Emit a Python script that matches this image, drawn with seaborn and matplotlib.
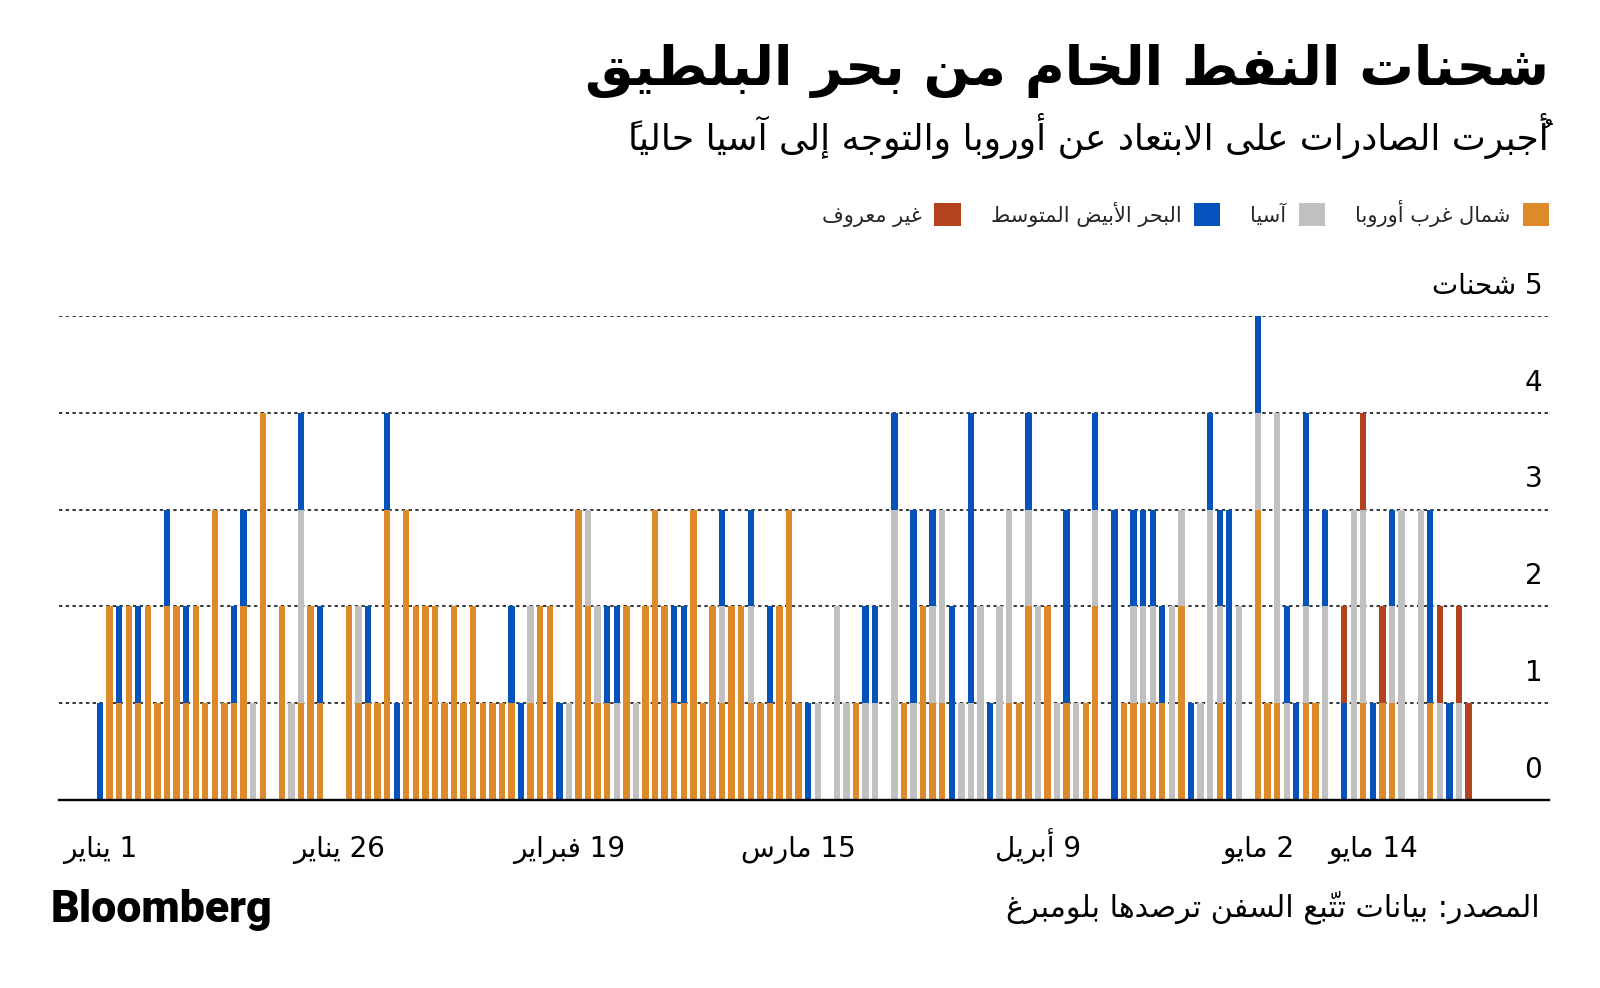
import numpy as np
import pandas as pd
import matplotlib
matplotlib.use("Agg")
import matplotlib.pyplot as plt
import matplotlib.transforms as mtransforms
from matplotlib.patches import Patch
import seaborn as sns

# ---------------- data ----------------
start_date = "2023-01-01"
categories = ["شمال غرب أوروبا", "آسيا", "البحر الأبيض المتوسط", "غير معروف"]
colors = ["#DF8A2A", "#C0C0C0", "#0652BD", "#B3421F"]

nw_europe = [0, 2, 1, 2, 1, 2, 1, 2, 2, 1,
             2, 1, 3, 1, 1, 2, 0, 4, 0, 2,
             0, 1, 2, 1, 0, 0, 2, 1, 1, 1,
             3, 0, 3, 2, 2, 2, 1, 2, 1, 2,
             1, 1, 1, 1, 0, 1, 2, 2, 0, 0,
             3, 2, 1, 1, 0, 2, 0, 2, 3, 2,
             1, 1, 3, 1, 2, 1, 2, 2, 1, 1,
             1, 2, 3, 1, 0, 0, 0, 0, 0, 1,
             0, 0, 0, 0, 1, 0, 2, 1, 1, 0,
             0, 0, 0, 0, 0, 1, 1, 2, 0, 2,
             0, 1, 0, 1, 2, 0, 0, 1, 1, 1,
             1, 1, 0, 2, 0, 0, 0, 1, 0, 0,
             0, 3, 1, 1, 0, 0, 1, 1, 0, 0,
             0, 0, 1, 0, 1, 1, 0, 0, 0, 1,
             0, 0, 0, 0]
asia = [0, 0, 0, 0, 0, 0, 0, 0, 0, 0,
        0, 0, 0, 0, 0, 0, 1, 0, 0, 0,
        1, 2, 0, 0, 0, 0, 0, 1, 0, 0,
        0, 0, 0, 0, 0, 0, 0, 0, 0, 0,
        0, 0, 0, 0, 0, 1, 0, 0, 0, 1,
        0, 1, 1, 0, 1, 0, 1, 0, 0, 0,
        0, 0, 0, 0, 0, 1, 0, 0, 1, 0,
        0, 0, 0, 0, 0, 1, 0, 2, 1, 0,
        1, 1, 0, 3, 0, 1, 0, 1, 2, 0,
        1, 1, 2, 0, 2, 2, 0, 1, 2, 0,
        1, 0, 1, 0, 1, 0, 0, 0, 1, 1,
        1, 0, 2, 1, 0, 1, 3, 1, 0, 2,
        0, 1, 0, 3, 1, 0, 1, 0, 2, 0,
        0, 3, 2, 0, 0, 1, 3, 0, 3, 0,
        1, 0, 1, 0]
mediterranean = [1, 0, 1, 0, 1, 0, 0, 1, 0, 1,
                 0, 0, 0, 0, 1, 1, 0, 0, 0, 0,
                 0, 1, 0, 1, 0, 0, 0, 0, 1, 0,
                 1, 1, 0, 0, 0, 0, 0, 0, 0, 0,
                 0, 0, 0, 1, 1, 0, 0, 0, 1, 0,
                 0, 0, 0, 1, 1, 0, 0, 0, 0, 0,
                 1, 1, 0, 0, 0, 1, 0, 0, 1, 0,
                 1, 0, 0, 0, 1, 0, 0, 0, 0, 0,
                 1, 1, 0, 1, 0, 2, 0, 1, 0, 2,
                 0, 3, 0, 1, 0, 0, 0, 1, 0, 0,
                 0, 2, 0, 0, 1, 0, 3, 0, 1, 1,
                 1, 1, 0, 0, 1, 0, 1, 1, 3, 0,
                 0, 1, 0, 0, 1, 1, 2, 0, 1, 0,
                 1, 0, 0, 1, 0, 1, 0, 0, 0, 2,
                 0, 1, 0, 0]
unknown = [0] * 130 + [1, 0, 1, 0, 1, 0, 0, 0, 0, 0,
                       1, 0, 1, 1]

tick_dates = ["2023-01-01", "2023-01-26", "2023-02-19", "2023-03-15",
              "2023-04-09", "2023-05-02", "2023-05-14"]
tick_labels = ["1 يناير", "26 يناير", "19 فبراير", "15 مارس",
               "9 أبريل", "2 مايو", "14 مايو"]
y_values = [0, 1, 2, 3, 4, 5]
y_labels = ["0", "1", "2", "3", "4", "5 شحنات"]

title = "شحنات النفط الخام من بحر البلطيق"
subtitle = "أُجبرت الصادرات على الابتعاد عن أوروبا والتوجه إلى آسيا حالياً"
source = "المصدر: بيانات تتّبع السفن ترصدها بلومبرغ"

# ---------------- Arabic shaping (presentation forms + visual order) ----------------
FORMS = {
    "\u0621": (0xFE80, 1), "\u0622": (0xFE81, 2), "\u0623": (0xFE83, 2),
    "\u0624": (0xFE85, 2), "\u0625": (0xFE87, 2), "\u0626": (0xFE89, 4),
    "\u0627": (0xFE8D, 2), "\u0628": (0xFE8F, 4), "\u0629": (0xFE93, 2),
    "\u062A": (0xFE95, 4), "\u062B": (0xFE99, 4), "\u062C": (0xFE9D, 4),
    "\u062D": (0xFEA1, 4), "\u062E": (0xFEA5, 4), "\u062F": (0xFEA9, 2),
    "\u0630": (0xFEAB, 2), "\u0631": (0xFEAD, 2), "\u0632": (0xFEAF, 2),
    "\u0633": (0xFEB1, 4), "\u0634": (0xFEB5, 4), "\u0635": (0xFEB9, 4),
    "\u0636": (0xFEBD, 4), "\u0637": (0xFEC1, 4), "\u0638": (0xFEC5, 4),
    "\u0639": (0xFEC9, 4), "\u063A": (0xFECD, 4), "\u0641": (0xFED1, 4),
    "\u0642": (0xFED5, 4), "\u0643": (0xFED9, 4), "\u0644": (0xFEDD, 4),
    "\u0645": (0xFEE1, 4), "\u0646": (0xFEE5, 4), "\u0647": (0xFEE9, 4),
    "\u0648": (0xFEED, 2), "\u0649": (0xFEEF, 2), "\u064A": (0xFEF1, 4),
}
LAM_ALEF = {"\u0622": 0xFEF5, "\u0623": 0xFEF7, "\u0625": 0xFEF9, "\u0627": 0xFEFB}
HARAKAT = set(chr(c) for c in range(0x064B, 0x0653)) | {"\u0670"}


def _jtype(unit):
    b = unit[0]
    if isinstance(b, tuple):
        return "R"
    if b in FORMS:
        n = FORMS[b][1]
        return "D" if n == 4 else ("R" if n == 2 else "U")
    return None


def rtl(text):
    units = []
    for ch in text:
        if ch in HARAKAT and units:
            units[-1][1] += ch
        else:
            units.append([ch, ""])
    merged = []
    i = 0
    while i < len(units):
        b, m = units[i]
        if b == "\u0644" and i + 1 < len(units) and units[i + 1][0] in LAM_ALEF:
            merged.append([("LA", units[i + 1][0]), m + units[i + 1][1]])
            i += 2
        else:
            merged.append([b, m])
            i += 1
    shaped = []
    for k, u in enumerate(merged):
        t = _jtype(u)
        if t is None:
            shaped.append((u[0] + u[1], False))
            continue
        pt = _jtype(merged[k - 1]) if k > 0 else None
        nt = _jtype(merged[k + 1]) if k + 1 < len(merged) else None
        jp = pt == "D" and t in ("D", "R")
        jn = t == "D" and nt in ("D", "R")
        if isinstance(u[0], tuple):
            code = LAM_ALEF[u[0][1]] + (1 if jp else 0)
        else:
            base = FORMS[u[0]][0]
            if jp and jn:
                code = base + 3
            elif jp:
                code = base + 1
            elif jn:
                code = base + 2
            else:
                code = base
        # marks placed before their base so that they overlay it in LTR drawing
        shaped.append((u[1] + chr(code), True))
    tokens = []
    for s, is_ar in shaped:
        c = s[0]
        ltr = (not is_ar) and (c.isdigit() or (c.isascii() and c.isalpha()))
        if ltr and tokens and tokens[-1][1]:
            tokens[-1][0] += s
        else:
            tokens.append([s, ltr])
    return "".join(t[0] for t in reversed(tokens))


# ---------------- build long table ----------------
n_days = len(nw_europe)
day = np.arange(n_days)
series = [nw_europe, asia, mediterranean, unknown]
frames = []
for cat, vals in zip(categories, series):
    frames.append(pd.DataFrame({"day": day, "dest": cat, "ships": vals}))
df = pd.concat(frames, ignore_index=True)
df = df[df["ships"] > 0]

palette = dict(zip(categories, colors))

# ---------------- plot ----------------
sns.set_style("white")
plt.rcParams["font.family"] = ["DejaVu Sans"]

W, H = 1600, 988
fig = plt.figure(figsize=(W / 100, H / 100), dpi=100)
ax = fig.add_axes([59 / W, 188 / H, 1490 / W, 484 / H])

sns.histplot(data=df, x="day", weights="ships", hue="dest",
             hue_order=categories[::-1], palette=palette,
             multiple="stack", discrete=True, shrink=0.66,
             linewidth=0, alpha=1, legend=False, ax=ax)

ax.set_xlim(-4.28, 151.4)
ax.set_ylim(0, 5)
ax.set_xlabel("")
ax.set_ylabel("")

for s in ["left", "right", "top"]:
    ax.spines[s].set_visible(False)
ax.spines["bottom"].set_color("black")
ax.spines["bottom"].set_linewidth(1.7)

t0 = pd.Timestamp(start_date)
tick_pos = [(pd.Timestamp(d) - t0).days for d in tick_dates]
ax.set_xticks(tick_pos)
ax.set_xticklabels([rtl(t) for t in tick_labels])
ax.tick_params(axis="x", direction="out", length=9, width=1.8, color="black",
               pad=32, labelsize=20, labelcolor="black")
for lbl in ax.get_xticklabels():
    lbl.set_verticalalignment("baseline")

ax.set_yticks(y_values)
ax.tick_params(axis="y", left=False, labelleft=False, right=False)
ax.set_axisbelow(True)
ax.yaxis.grid(True, linestyle=(0, (2.2, 2.2)), color="black", linewidth=1.1)
ax.xaxis.grid(False)

trans = mtransforms.blended_transform_factory(ax.transAxes, ax.transData)
trans = mtransforms.offset_copy(trans, fig=fig, y=16, units="points")
for v, lab in zip(y_values, y_labels):
    ax.text(0.9955, v, rtl(lab), transform=trans, ha="right", va="baseline",
            fontsize=20, color="black")

# legend (right-to-left)
handles = [Patch(facecolor=c, edgecolor="none") for c in colors][::-1]
labels = [rtl(c) for c in categories][::-1]
fig.legend(handles, labels, loc="center right", bbox_to_anchor=(1549 / W, 1 - 213 / H),
           ncol=4, markerfirst=False, frameon=False, fontsize=15,
           handlelength=1.25, handleheight=1.25, handletextpad=0.6,
           columnspacing=1.45, borderaxespad=0, borderpad=0)

renderer = fig.canvas.get_renderer()


def fit(t, target):
    w = t.get_window_extent(renderer).width
    t.set_fontsize(t.get_fontsize() * target / w)


t_title = fig.text(1549 / W, 1 - 71 / H, rtl(title), ha="right", va="center",
                   fontsize=40, fontweight="bold", color="black")
fit(t_title, 964)
t_sub = fig.text(1549 / W, 1 - 136 / H, rtl(subtitle), ha="right", va="center",
                 fontsize=22, color="black")
fit(t_sub, 921)
t_src = fig.text(1540 / W, 1 - 907 / H, rtl(source), ha="right", va="center",
                 fontsize=19, color="black")
fit(t_src, 533)
t_bb = fig.text(51 / W, 1 - 910 / H, "Bloomberg", ha="left", va="center",
                fontsize=26, fontweight="heavy", color="black",
                family=["Roboto", "DejaVu Sans"])
fit(t_bb, 222)

fig.savefig("out.png", dpi=100)
